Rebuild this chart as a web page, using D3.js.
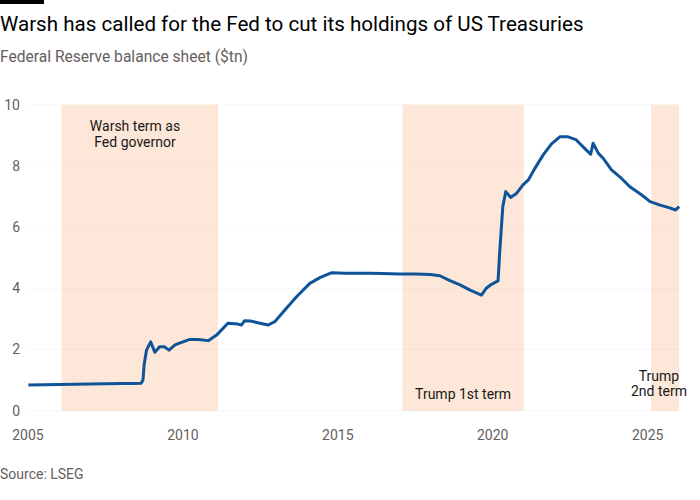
<!DOCTYPE html>
<html>
<head>
<meta charset="utf-8">
<script src="https://cdn.jsdelivr.net/npm/d3@7"></script>
<style>
  body { margin: 0; background: #fff; }
  svg { display: block; font-family: Roboto, "Noto Sans", sans-serif; }
</style>
</head>
<body>
<div id="chart"></div>
<script>
// Fed balance sheet, $tn
const dates = [
  "2005-01-05","2005-07-06","2006-01-04","2006-07-05","2007-01-03","2007-07-04",
  "2008-01-02","2008-06-04","2008-08-27","2008-09-17","2008-10-01","2008-10-29",
  "2008-12-17","2009-02-04","2009-04-01","2009-05-27","2009-07-22","2009-09-30",
  "2009-12-16","2010-03-24","2010-06-30","2010-10-27","2011-02-02","2011-06-15",
  "2011-10-12","2011-11-23","2011-12-28","2012-03-07","2012-06-27","2012-10-03",
  "2012-12-19","2013-04-17","2013-09-04","2014-02-05","2014-06-04","2014-10-22",
  "2015-03-25","2015-08-26","2016-01-06","2016-06-01","2016-12-28","2017-06-28",
  "2017-12-27","2018-04-18","2018-08-15","2018-12-12","2019-04-10","2019-08-21",
  "2019-10-16","2019-12-18","2020-02-05","2020-03-04","2020-03-25","2020-04-29",
  "2020-06-03","2020-07-29","2020-10-07","2020-12-23","2021-02-24","2021-05-12",
  "2021-08-18","2021-11-24","2022-03-02","2022-06-08","2022-09-14","2022-10-20",
  "2022-12-28","2023-03-01","2023-03-29","2023-05-31","2023-07-26","2023-11-01",
  "2024-02-28","2024-06-05","2024-10-23","2025-01-29","2025-05-28","2025-09-17",
  "2025-11-26","2026-01-07"
];
const values = [
  0.84,0.85,0.86,0.865,0.87,0.88,
  0.89,0.89,0.90,1.0,1.5,1.98,
  2.25,1.91,2.09,2.09,1.98,2.15,
  2.23,2.33,2.33,2.29,2.47,2.86,
  2.83,2.80,2.94,2.93,2.86,2.80,
  2.91,3.29,3.73,4.16,4.35,4.51,
  4.49,4.49,4.49,4.48,4.47,4.47,
  4.45,4.41,4.25,4.11,3.94,3.78,
  4.00,4.13,4.20,4.24,5.25,6.67,
  7.16,6.97,7.10,7.38,7.54,7.92,
  8.36,8.72,8.95,8.95,8.85,8.74,
  8.55,8.38,8.74,8.41,8.25,7.87,
  7.59,7.32,7.05,6.83,6.72,6.63,
  6.56,6.67
];

// shaded terms
const termStarts = ["2006-02-01","2017-02-01","2025-02-10"];
const termEnds = ["2011-02-20","2021-01-01","2026-01-07"];
const termLabels = [["Warsh term as","Fed governor"],["Trump 1st term"],["Trump","2nd term"]];

const yTicks = [0, 2, 4, 6, 8, 10];
const xTicks = [2005, 2010, 2015, 2020, 2025];

const width = 700, height = 500;
const parse = d3.timeParse("%Y-%m-%d");
const data = dates.map((d, i) => ({date: parse(d), value: values[i]}));

const svg = d3.select("#chart").append("svg")
  .attr("width", width)
  .attr("height", height);

const x = d3.scaleTime()
  .domain([new Date(2005, 0, 1), new Date(2025, 0, 1)])
  .range([28, 647.7]);
const y = d3.scaleLinear()
  .domain([0, 10])
  .range([410.7, 104.7]);

// top black bar
svg.append("rect").attr("x", 0).attr("y", 0).attr("width", 44).attr("height", 4).attr("fill", "#000");

svg.append("text").attr("x", 0).attr("y", 31)
  .attr("font-size", 20.6).attr("fill", "#000")
  .text("Warsh has called for the Fed to cut its holdings of US Treasuries");
svg.append("text").attr("x", 0).attr("y", 62)
  .attr("font-size", 15.6).attr("fill", "#66605c")
  .text("Federal Reserve balance sheet ($tn)");

// shading
svg.append("g").selectAll("rect")
  .data(termStarts)
  .join("rect")
    .attr("x", (d) => x(parse(d)))
    .attr("y", y(10))
    .attr("width", (d, i) => x(parse(termEnds[i])) - x(parse(d)))
    .attr("height", y(0) - y(10))
    .attr("fill", "#fde7d8");

// gridlines + y labels
const yAxis = svg.append("g");
yAxis.selectAll("line")
  .data(yTicks)
  .join("line")
    .attr("x1", 28).attr("x2", 680)
    .attr("y1", (d) => y(d)).attr("y2", (d) => y(d))
    .attr("stroke", "#000").attr("stroke-opacity", 0.03);
yAxis.selectAll("text")
  .data(yTicks)
  .join("text")
    .attr("x", 20)
    .attr("y", (d) => y(d))
    .attr("dy", "0.35em")
    .attr("text-anchor", "end")
    .attr("font-size", 14)
    .attr("fill", "#66605c")
    .text((d) => d);

// x labels
svg.append("g").selectAll("text")
  .data(xTicks)
  .join("text")
    .attr("x", (d) => x(new Date(d, 0, 1)))
    .attr("y", 440)
    .attr("text-anchor", "middle")
    .attr("font-size", 14)
    .attr("fill", "#66605c")
    .text((d) => d);

// term labels
const labelY = [[126, 142], [394], [376, 391]];
termLabels.forEach((lines, i) => {
  const cx = i === 0 ? 135 : (x(parse(termStarts[i])) + x(parse(termEnds[i]))) / 2;
  lines.forEach((t, j) => {
    svg.append("text")
      .attr("x", i === 2 ? 659 : cx)
      .attr("y", labelY[i][j])
      .attr("dy", "0.35em")
      .attr("text-anchor", "middle")
      .attr("font-size", 14)
      .attr("fill", "#1a1817")
      .text(t);
  });
});

// line
const line = d3.line()
  .x((d) => x(d.date))
  .y((d) => y(d.value));

svg.append("path")
  .datum(data)
  .attr("fill", "none")
  .attr("stroke", "#0f5499")
  .attr("stroke-width", 3)
  .attr("stroke-linejoin", "round")
  .attr("d", line);

svg.append("text").attr("x", 0).attr("y", 479)
  .attr("font-size", 14).attr("fill", "#66605c")
  .text("Source: LSEG");
</script>
</body>
</html>
